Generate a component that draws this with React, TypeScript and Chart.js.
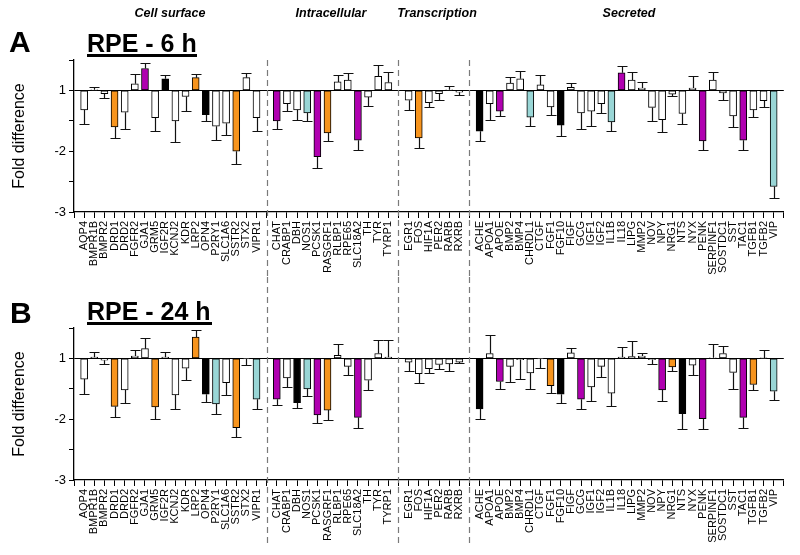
import React, { useEffect, useRef } from 'react';
import { Chart, registerables } from 'chart.js';
Chart.register(...registerables);

// ---------- categories ----------
const cellSurface = ['AQP4','BMPR1B','BMPR2','DRD1','DRD2','FGFR2','GJA1','GRM5','IGF2R','KCNJ2','KDR','LRP2','OPN4','P2RY1','SLC1A6','SSTR2','STX2','VIPR1'];
const intracellular = ['CHAT','CRABP1','DBH','NOS1','PCSK1','RASGRF1','RLBP1','RPE65','SLC18A2','TH','TYR','TYRP1'];
const transcription = ['EGR1','FOS','HIF1A','PER2','RARB','RXRB'];
const secreted = ['ACHE','APOA1','APOE','BMP2','BMP4','CHRDL1','CTGF','FGF1','FGF10','FIGF','GCG','IGF1','IGF2','IL1B','IL18','LIPG','MMP2','NOV','NPY','NRG1','NTS','NYX','PENK','SERPINF1','SOSTDC1','SST','TAC1','TGFB1','TGFB2','VIP'];
const groupNames = ['Cell surface', 'Intracellular', 'Transcription', 'Secreted'];

// y tick labels (axis units: 0 -> "1", -1 -> "-2", -2 -> "-3")
const yTickLabels: Record<string, string> = { '0': '1', '-1': '-2', '-2': '-3' };

// ---------- RPE - 6 h ----------
const cell6 = [-0.32, 0.01, -0.055, -0.60, -0.36, 0.11, 0.36, -0.45, 0.19, -0.50, -0.10, 0.21, -0.40, -0.59, -0.54, -1.00, 0.21, -0.45];
const cell6Err = [0.24, 0.04, 0.065, 0.19, 0.27, 0.16, 0.09, 0.22, 0.07, 0.35, 0.24, 0.06, 0.11, 0.22, 0.20, 0.21, 0.08, 0.21];
const intra6 = [-0.50, -0.22, -0.32, -0.37, -1.09, -0.70, 0.14, 0.17, -0.82, -0.11, 0.23, 0.13];
const intra6Err = [0.14, 0.12, 0.16, 0.13, 0.18, 0.14, 0.12, 0.11, 0.16, 0.14, 0.18, 0.17];
const trans6 = [-0.16, -0.78, -0.20, -0.055, 0.01, -0.03];
const trans6Err = [0.17, 0.16, 0.07, 0.095, 0.06, 0.04];
const sec6 = [-0.67, -0.22, -0.34, 0.12, 0.19, -0.44, 0.09, -0.27, -0.57, 0.05, -0.37, -0.34, -0.22, -0.52, 0.29, 0.17, 0.04, -0.28, -0.48, -0.06, -0.38, 0.04, -0.83, 0.17, -0.04, -0.42, -0.82, -0.32, -0.17, -1.58];
const sec6Err = [0.17, 0.26, 0.08, 0.10, 0.13, 0.14, 0.16, 0.14, 0.18, 0.07, 0.27, 0.25, 0.15, 0.14, 0.11, 0.13, 0.09, 0.22, 0.20, 0.03, 0.18, 0.19, 0.15, 0.13, 0.12, 0.18, 0.16, 0.11, 0.10, 0.19];
// classes: w=white, o=orange, m=magenta, k=black, c=cyan
const cell6Cls = 'wwwowwmwkwwokwwoww';
const intra6Cls = 'mwwcmowwmwww';
const trans6Cls = 'wowwww';
const sec6Cls = 'kwmwwcwwkwwwwcmwwwwwwwmwwwmwwc';

// ---------- RPE - 24 h ----------
const cell24 = [-0.34, 0.02, -0.03, -0.79, -0.52, 0.04, 0.16, -0.80, 0.02, -0.60, -0.16, 0.35, -0.59, -0.75, -0.40, -1.14, -0.01, -0.67];
const cell24Err = [0.24, 0.09, 0.07, 0.18, 0.22, 0.10, 0.18, 0.19, 0.09, 0.24, 0.20, 0.11, 0.12, 0.16, 0.20, 0.15, 0.10, 0.17];
const intra24 = [-0.67, -0.32, -0.73, -0.50, -0.93, -0.85, 0.05, -0.13, -0.97, -0.36, 0.08, 0.02];
const intra24Err = [0.09, 0.15, 0.08, 0.12, 0.14, 0.16, 0.19, 0.14, 0.17, 0.16, 0.23, 0.29];
const trans24 = [-0.06, -0.25, -0.17, -0.10, -0.09, -0.06];
const trans24Err = [0.15, 0.15, 0.07, 0.07, 0.11, 0.02];
const sec24 = [-0.83, 0.08, -0.38, -0.13, -0.02, -0.24, -0.01, -0.45, -0.59, 0.09, -0.67, -0.47, -0.13, -0.57, 0.02, 0.03, 0.04, -0.02, -0.52, -0.14, -0.91, -0.11, -0.99, 0.01, 0.08, -0.23, -0.97, -0.43, 0.005, -0.54];
const sec24Err = [0.16, 0.31, 0.13, 0.26, 0.32, 0.27, 0.15, 0.12, 0.14, 0.08, 0.17, 0.23, 0.17, 0.22, 0.17, 0.25, 0.05, 0.08, 0.18, 0.06, 0.25, 0.16, 0.17, 0.22, 0.12, 0.27, 0.17, 0.09, 0.135, 0.15];
const cell24Cls = 'wwwowwwowwwokcwowc';
const intra24Cls = 'mwkcmowwmwww';
const trans24Cls = 'wwwwww';
const sec24Cls = 'kwmwwwwokwmwwwwwwwmokwmwwwmowc';

const palette: Record<string, string> = { w: '#ffffff', o: '#F7941D', m: '#B000B0', k: '#000000', c: '#99D6D6' };

// Interleave groups with empty slots (leading, between groups, trailing)
function withGaps<T>(groups: T[][], gap: T): T[] {
  const out: T[] = [gap];
  groups.forEach((g, i) => {
    out.push(...g);
    out.push(gap);
  });
  return out;
}
const labels = withGaps<string>([cellSurface, intracellular, transcription, secreted], '');
const separators: number[] = (() => {
  const res: number[] = [];
  let idx = 0;
  [cellSurface, intracellular, transcription].forEach((g) => {
    idx += g.length + 1;
    res.push(idx);
  });
  return res;
})();

const FONT = "'Liberation Sans', Arial, sans-serif";

const errorBarPlugin = {
  id: 'errorBars',
  afterDatasetsDraw(chart: any, _args: any, opts: any) {
    const { ctx } = chart;
    const ys = chart.scales.y;
    const meta = chart.getDatasetMeta(0);
    const data = chart.data.datasets[0].data;
    const errs = opts.errors || [];
    ctx.save();
    ctx.strokeStyle = '#111';
    ctx.lineWidth = 1.2;
    meta.data.forEach((el: any, i: number) => {
      const v = data[i];
      if (v == null) return;
      const e = errs[i] || 0;
      const s = v >= 0 ? 1 : -1;
      const y0 = ys.getPixelForValue(v);
      const y1 = Math.round(ys.getPixelForValue(v + s * e)) + 0.5;
      const x = Math.round(el.x) + 0.5;
      ctx.beginPath();
      ctx.moveTo(x, y0);
      ctx.lineTo(x, y1);
      ctx.moveTo(x - 5, y1);
      ctx.lineTo(x + 5, y1);
      ctx.stroke();
    });
    ctx.restore();
  },
};

const dashPlugin = {
  id: 'dashLines',
  afterDraw(chart: any, _args: any, opts: any) {
    const { ctx } = chart;
    const xs = chart.scales.x;
    ctx.save();
    ctx.strokeStyle = '#7a7a7a';
    ctx.lineWidth = 1.2;
    ctx.setLineDash([6, 4]);
    (opts.indices || []).forEach((idx: number) => {
      const x = Math.round(xs.getPixelForValue(idx)) + 0.5;
      ctx.beginPath();
      ctx.moveTo(x, opts.top);
      ctx.lineTo(x, opts.bottom);
      ctx.stroke();
    });
    ctx.restore();
  },
};

type PanelProps = {
  values: (number | null)[];
  errors: (number | null)[];
  classes: string[];
  height: number;
  padTop: number;
  xAxisHeight: number;
  dashTop: number;
  dashBottom: number;
};

function Panel({ values, errors, classes, height, padTop, xAxisHeight, dashTop, dashBottom }: PanelProps) {
  const ref = useRef<HTMLCanvasElement | null>(null);
  useEffect(() => {
    if (!ref.current) return;
    const chart = new Chart(ref.current, {
      type: 'bar',
      data: {
        labels,
        datasets: [
          {
            data: values as any,
            backgroundColor: classes.map((c) => palette[c] || '#fff'),
            borderColor: '#000',
            borderWidth: 1,
            borderSkipped: false,
            barThickness: 7,
          },
        ],
      },
      options: {
        responsive: false,
        devicePixelRatio: 1,
        animation: false,
        layout: { padding: { top: padTop, right: 10, left: 0, bottom: 0 } },
        plugins: {
          legend: { display: false },
          tooltip: { enabled: false },
          errorBars: { errors },
          dashLines: { indices: separators, top: dashTop, bottom: dashBottom },
        } as any,
        scales: {
          x: {
            type: 'category',
            offset: false,
            grid: { display: true, drawOnChartArea: false, offset: false, color: '#000', tickLength: 6, tickWidth: 1 },
            border: { display: true, color: '#000', width: 1.3 },
            ticks: {
              autoSkip: false,
              maxRotation: 90,
              minRotation: 90,
              padding: 3,
              color: '#000',
              font: { family: FONT, size: 11 },
            },
            afterFit: (s: any) => {
              s.height = xAxisHeight;
            },
          },
          y: {
            min: -2,
            max: 0.5,
            grid: {
              drawOnChartArea: true,
              color: (c: any) => (c.tick && c.tick.value === 0 ? '#000' : 'rgba(0,0,0,0)'),
              tickColor: '#000',
              tickLength: 5,
              lineWidth: 1,
            },
            border: { display: true, color: '#000', width: 1.3 },
            ticks: {
              stepSize: 0.5,
              padding: 3,
              color: '#000',
              font: { family: FONT, size: 13 },
              callback: (v: any) => yTickLabels[String(Math.round(Number(v) * 10) / 10)] ?? '',
            },
            title: {
              display: true,
              text: 'Fold difference',
              color: '#000',
              font: { family: FONT, size: 16 },
              padding: { top: 10, bottom: 0 },
            },
            afterFit: (s: any) => {
              s.width = 74;
            },
          },
        },
      },
      plugins: [errorBarPlugin, dashPlugin],
    });
    return () => chart.destroy();
  }, []);
  return <canvas ref={ref} width={800} height={height} style={{ display: 'block', width: 800, height }} />;
}

const panel6 = {
  values: withGaps<number | null>([cell6, intra6, trans6, sec6], null),
  errors: withGaps<number | null>([cell6Err, intra6Err, trans6Err, sec6Err], null),
  classes: withGaps<string>([cell6Cls.split(''), intra6Cls.split(''), trans6Cls.split(''), sec6Cls.split('')], 'w'),
};
const panel24 = {
  values: withGaps<number | null>([cell24, intra24, trans24, sec24], null),
  errors: withGaps<number | null>([cell24Err, intra24Err, trans24Err, sec24Err], null),
  classes: withGaps<string>([cell24Cls.split(''), intra24Cls.split(''), trans24Cls.split(''), sec24Cls.split('')], 'w'),
};

const headerCenters = [170, 331, 437, 629];

function Txt({ x, baseline, size, bold, italic, children, center }: any) {
  return (
    <div
      style={{
        position: 'absolute',
        left: x,
        top: baseline - 0.8465 * size,
        fontFamily: FONT,
        fontSize: size,
        lineHeight: `${size}px`,
        fontWeight: bold ? 700 : 400,
        fontStyle: italic ? 'italic' : 'normal',
        whiteSpace: 'nowrap',
        color: '#000',
        transform: center ? 'translateX(-50%)' : undefined,
      }}
    >
      {children}
    </div>
  );
}

export default function App() {
  return (
    <div style={{ position: 'absolute', left: 0, top: 0, width: 800, height: 555, background: '#fff', overflow: 'hidden' }}>
      <div style={{ position: 'absolute', left: 0, top: 0 }}>
        <Panel {...panel6} height={277} padTop={60} xAxisHeight={65} dashTop={60} dashBottom={277} />
      </div>
      <div style={{ position: 'absolute', left: 0, top: 277 }}>
        <Panel {...panel24} height={278} padTop={51} xAxisHeight={75} dashTop={0} dashBottom={270} />
      </div>
      {groupNames.map((g, i) => (
        <Txt key={g} x={headerCenters[i]} baseline={18} size={12.5} bold italic center>
          {g}
        </Txt>
      ))}
      <Txt x={9} baseline={52} size={30} bold>A</Txt>
      <Txt x={87} baseline={52} size={25} bold>RPE - 6 h</Txt>
      <div style={{ position: 'absolute', left: 87, top: 54, width: 110, height: 3, background: '#000' }} />
      <Txt x={10} baseline={323} size={30} bold>B</Txt>
      <Txt x={87} baseline={320} size={25} bold>RPE - 24 h</Txt>
      <div style={{ position: 'absolute', left: 87, top: 322, width: 125, height: 3, background: '#000' }} />
    </div>
  );
}
